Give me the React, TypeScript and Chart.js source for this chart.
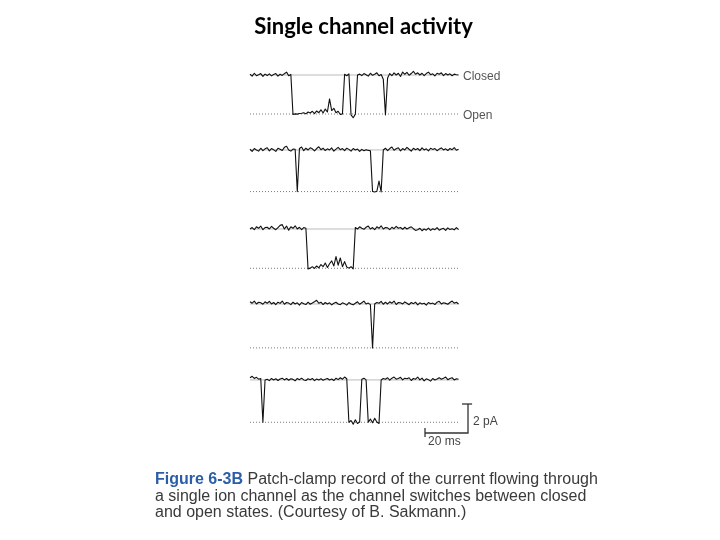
import React, { useEffect, useRef } from "react";
import { Chart, registerables } from "chart.js";

Chart.register(...registerables);

// ---- data (current in pA relative to the closed level, one sample per ms) ----
const SAMPLE_MS = 1;

const TRACE_1 = [
  0.05, -0.08, 0.12, -0.05, 0.02, 0.1, -0.1, 0.06, -0.04, 0.08, -0.06, 0.03, 0.1, -0.08, 0.05, -0.03, 0.09, 0.2, -0.05, 0.04,
  -2.72, -2.68, -2.7, -2.66, -2.64, -2.6, -2.68, -2.55, -2.62, -2.5, -2.66, -2.48, -2.6, -2.4, -2.62, -2.35, -2.55, -1.65, -2.45, -2.3, -2.6, -2.5, -2.72, -2.68,
  0.05, -0.05, 0.08,
  -2.75, -2.95, -2.7,
  0.0, 0.06, -0.04, 0.1, 0.02, -0.08, 0.12, -0.02, 0.05, 0.15, -0.05, 0.03,
  -0.3, -2.75, -0.2,
  0.1, -0.05, 0.15, 0.0, 0.12, -0.1, 0.2, 0.05, 0.18, -0.02, 0.1, 0.25, 0.05, 0.15, 0.0, 0.12, -0.05, 0.1, 0.2, 0.02,
  0.08, -0.06, 0.12, 0.05, 0.15, -0.04, 0.1, 0.0, 0.08, -0.05, 0.06, 0.02, 0.0,
];

const TRACE_2 = [
  0.05, -0.1, 0.1, 0.0, -0.08, 0.12, -0.05, 0.08, 0.15, -0.06, 0.1, 0.02, -0.1, 0.12, 0.05, -0.04, 0.18, 0.25, 0.0, -0.08, 0.06,
  0.05, -2.87,
  0.1, 0.2, -0.05, 0.12, 0.0, 0.15, 0.08, -0.06, 0.1, 0.22, 0.02, 0.12, -0.04, 0.08, 0.0, 0.14, -0.08, 0.06, 0.18, 0.02,
  0.1, -0.05, 0.12, 0.04, -0.08, 0.1, 0.0, 0.06, -0.1, 0.04, -0.05, 0.02, -0.03,
  -0.05,
  -2.87, -2.9, -2.85, -2.15, -2.9,
  0.0, 0.12, -0.05, 0.1, 0.2, -0.02, 0.08, 0.15, -0.06, 0.1, 0.0, 0.18, 0.05, -0.08, 0.12, 0.02, 0.1, -0.04, 0.15, 0.0,
  0.08, -0.06, 0.12, 0.04, 0.1, -0.05, 0.06, 0.14, 0.0, 0.08, -0.04, 0.1, 0.02, 0.16, -0.02, 0.05,
];

const TRACE_3 = [
  0.0, 0.1, -0.05, 0.15, 0.05, 0.2, -0.05, 0.1, 0.12, 0.0, 0.18, 0.05, -0.05, 0.1, 0.25, 0.3, 0.0, 0.2, -0.08, 0.15,
  0.05, 0.22, 0.0, 0.12, -0.05, 0.1, 0.05,
  -2.75, -2.7, -2.6, -2.72, -2.55, -2.68, -2.45, -2.6, -2.35, -2.65, -2.4, -2.2, -2.55, -1.9, -2.5, -2.0, -2.6, -2.25,
  -2.62, -2.7, -2.6, -2.75,
  0.1, 0.0, 0.15, 0.05, -0.02, 0.12, 0.2, 0.0, 0.1, -0.05, 0.15, 0.05, 0.22, 0.0, 0.1, 0.08, -0.04, 0.12, 0.02, 0.18,
  0.05, 0.1, -0.02, 0.12, 0.0, 0.08, 0.15, 0.02, -0.1, -0.05, 0.05, -0.12, 0.0, -0.08, 0.06, -0.1, 0.02, -0.05, 0.1, -0.08,
  0.0, 0.05, -0.1, 0.08, -0.04, 0.02, -0.06, 0.1, -0.05,
];

const TRACE_4 = [
  0.15, 0.05, 0.2, 0.0, 0.12, 0.08, -0.02, 0.15, 0.05, 0.18, 0.0, 0.1, -0.05, 0.12, 0.04, 0.2, -0.02, 0.1, 0.06, -0.05,
  0.12, 0.0, 0.08, -0.08, 0.1, 0.02, -0.04, 0.12, -0.02, 0.06, 0.15, 0.25, 0.05, 0.12, -0.04, 0.1, 0.0, 0.08, -0.06, 0.05,
  0.12, 0.0, -0.05, 0.08, 0.02, -0.08, 0.1, 0.0, -0.06, 0.05, 0.15, -0.02, 0.08, 0.2, 0.0, 0.06,
  -0.05, -3.03, 0.0,
  0.1, 0.05, 0.18, -0.02, 0.12, 0.0, 0.15, 0.05, 0.2, -0.04, 0.1, 0.08, 0.0, 0.14, 0.05, -0.05, 0.1, 0.02, 0.12, -0.06,
  0.08, 0.0, 0.05, -0.08, 0.1, 0.02, 0.06, -0.04, 0.12, 0.18, 0.0, 0.08, 0.04, -0.02, 0.1, 0.2, 0.05, 0.12, 0.0,
];

const TRACE_5 = [
  0.15, 0.25, 0.1, 0.18, 0.05, 0.1,
  -2.92,
  0.0,
  0.05, -0.05, 0.1, 0.0, 0.08, -0.04, 0.06, 0.12, 0.0, 0.1, -0.02, 0.08, 0.04, -0.06, 0.1, 0.02, 0.12, 0.0, -0.04, 0.08,
  0.02, 0.1, -0.05, 0.06, 0.0, 0.08, -0.02, 0.05, 0.1, 0.0, 0.06, -0.04, 0.12, 0.02, 0.15, 0.05, 0.2, 0.08,
  -2.92, -2.8, -3.05, -2.75, -3.0, -2.9,
  0.05, 0.12, 0.0,
  -2.92, -2.7, -2.95, -2.65, -2.9, -3.0,
  0.0, 0.1, 0.05, 0.15, -0.02, 0.12, 0.2, 0.05, 0.1, 0.18, 0.0, 0.12, 0.08, 0.15, -0.04, 0.1, 0.05, 0.2, 0.0, 0.12,
  -0.06, 0.08, 0.02, -0.08, 0.1, 0.0, 0.06, 0.15, 0.05, 0.12, 0.2, 0.02, 0.1, 0.15, 0.0, 0.08, 0.05,
];

const TRACES = [TRACE_1, TRACE_2, TRACE_3, TRACE_4, TRACE_5];
const TRACE_OFFSETS_PA = [0, -5.17, -10.62, -15.79, -21.03];
const OPEN_LEVELS_PA = [-2.69, -2.87, -2.71, -3.03, -2.92];
const TRACE_SPAN_MS = [0, 97];

const SCALE_BAR_MS = 20;
const SCALE_BAR_PA = 2;
const SCALE_BAR_CORNER = { ms: 101.4, pA: -24.69 };

const STATE_LABELS = ["Closed", "Open"];
const SCALE_LABELS = ["2 pA", "20 ms"];
const TITLE = "Single channel activity";
const CAPTION_TAG = "Figure 6-3B";
const CAPTION_LINES = [
  " Patch-clamp record of the current flowing through",
  "a single ion channel as the channel switches between closed",
  "and open states. (Courtesy of B. Sakmann.)",
];

// ---- page mapping (px per unit, origin of trace 1) ----
const PX_PER_MS = 2.15;
const PX_PER_PA = 14.5;
const ORIGIN_X = 250;
const ORIGIN_Y = 75;
const W = 720;
const H = 540;

const TEXT_FONT = '"Liberation Sans", Arial, Helvetica, sans-serif';

export default function App() {
  const canvasRef = useRef<HTMLCanvasElement | null>(null);

  useEffect(() => {
    const canvas = canvasRef.current;
    if (!canvas) return;

    const datasets: any[] = [];

    TRACES.forEach((trace, k) => {
      datasets.push({
        label: "trace " + (k + 1),
        data: trace.map((v, i) => ({ x: i * SAMPLE_MS, y: TRACE_OFFSETS_PA[k] + v })),
        borderColor: "#111111",
        borderWidth: 1.1,
        pointRadius: 0,
        showLine: true,
        tension: 0,
        borderJoinStyle: "round",
      });
    });

    // scale bar
    const c = SCALE_BAR_CORNER;
    datasets.push({
      label: "scale bar",
      data: [
        { x: c.ms - SCALE_BAR_MS, y: c.pA },
        { x: c.ms, y: c.pA },
        { x: c.ms, y: c.pA + SCALE_BAR_PA },
      ],
      borderColor: "#333333",
      borderWidth: 1.3,
      pointRadius: 0,
      showLine: true,
      tension: 0,
    });
    datasets.push({
      label: "scale bar top tick",
      data: [
        { x: c.ms - 2.8, y: c.pA + SCALE_BAR_PA },
        { x: c.ms + 1.9, y: c.pA + SCALE_BAR_PA },
      ],
      borderColor: "#333333",
      borderWidth: 1.3,
      pointRadius: 0,
      showLine: true,
    });
    datasets.push({
      label: "scale bar left tick",
      data: [
        { x: c.ms - SCALE_BAR_MS, y: c.pA + 0.35 },
        { x: c.ms - SCALE_BAR_MS, y: c.pA - 0.28 },
      ],
      borderColor: "#333333",
      borderWidth: 1.3,
      pointRadius: 0,
      showLine: true,
    });

    // reference levels
    TRACES.forEach((_, k) => {
      datasets.push({
        label: "closed level " + (k + 1),
        data: TRACE_SPAN_MS.map((t) => ({ x: t, y: TRACE_OFFSETS_PA[k] })),
        borderColor: "#a8a8a8",
        borderWidth: 0.8,
        pointRadius: 0,
        showLine: true,
      });
      datasets.push({
        label: "open level " + (k + 1),
        data: TRACE_SPAN_MS.map((t) => ({ x: t, y: TRACE_OFFSETS_PA[k] + OPEN_LEVELS_PA[k] })),
        borderColor: "#7a7a7a",
        borderWidth: 1,
        borderDash: [1, 2],
        pointRadius: 0,
        showLine: true,
      });
    });

    const chart = new Chart(canvas, {
      type: "scatter",
      data: { datasets },
      options: {
        animation: false,
        responsive: false,
        events: [],
        layout: { padding: 0 },
        plugins: {
          legend: { display: false },
          tooltip: { enabled: false },
          title: { display: false },
        },
        scales: {
          x: {
            type: "linear",
            display: false,
            min: -ORIGIN_X / PX_PER_MS,
            max: (W - ORIGIN_X) / PX_PER_MS,
          },
          y: {
            type: "linear",
            display: false,
            min: -(H - ORIGIN_Y) / PX_PER_PA,
            max: ORIGIN_Y / PX_PER_PA,
          },
        },
      },
    });

    return () => chart.destroy();
  }, []);

  const labelStyle: React.CSSProperties = {
    position: "absolute",
    fontFamily: TEXT_FONT,
    fontSize: 12,
    lineHeight: "14px",
    color: "#555555",
    whiteSpace: "nowrap",
  };

  return (
    <div style={{ position: "absolute", left: 0, top: 0, width: W, height: H, background: "#ffffff", overflow: "hidden" }}>
      <canvas ref={canvasRef} width={W} height={H} style={{ position: "absolute", left: 0, top: 0, width: W, height: H }} />
      <div
        style={{
          position: "absolute",
          left: 0,
          top: 12,
          width: 727,
          textAlign: "center",
          fontFamily: 'Lato, "Open Sans", sans-serif',
          fontWeight: 700,
          fontSize: 22,
          lineHeight: "27px",
          color: "#000000",
        }}
      >
        {TITLE}
      </div>
      <div style={{ ...labelStyle, left: 463, top: 69 }}>{STATE_LABELS[0]}</div>
      <div style={{ ...labelStyle, left: 463, top: 108 }}>{STATE_LABELS[1]}</div>
      <div style={{ ...labelStyle, left: 473, top: 414, color: "#444444" }}>{SCALE_LABELS[0]}</div>
      <div style={{ ...labelStyle, left: 428, top: 434, color: "#444444" }}>{SCALE_LABELS[1]}</div>
      <div
        style={{
          position: "absolute",
          left: 155,
          top: 471,
          fontFamily: TEXT_FONT,
          fontSize: 16,
          lineHeight: "16.6px",
          color: "#3a3a3a",
          whiteSpace: "nowrap",
        }}
      >
        <span style={{ fontWeight: 700, color: "#2b5ea7" }}>{CAPTION_TAG}</span>
        {CAPTION_LINES[0]}
        <br />
        {CAPTION_LINES[1]}
        <br />
        {CAPTION_LINES[2]}
      </div>
    </div>
  );
}
